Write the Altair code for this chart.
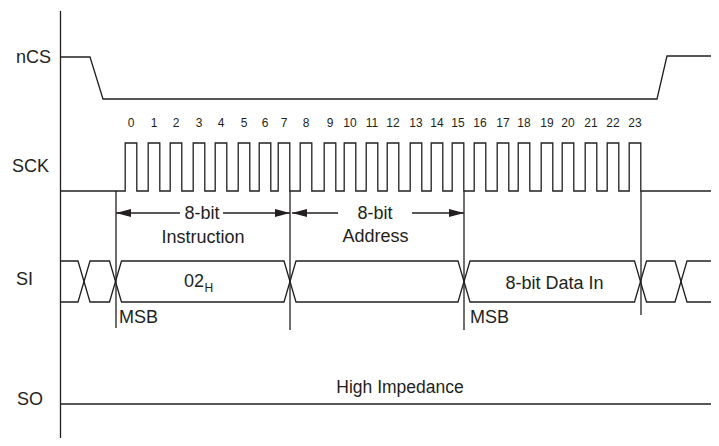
import altair as alt
import pandas as pd

INK = "#231f20"
FONT = "Liberation Sans"
W, H = 703, 430          # plot area; page margin is 8px
X0, Y0 = 8, 8            # page offset of the plot area

# ---------------- values (page pixel units) ----------------
signal_names = ["nCS", "SCK", "SI", "SO"]
signal_name_x = [16, 12, 16, 17]
signal_name_y = [63, 171.5, 285, 405]

axis_x = 60.5
axis_y = [11, 445]

ncs_t = [61, 90, 103, 657, 667, 716]
ncs_level = [57, 57, 99, 99, 56, 56]

sck_high, sck_low = 143, 191
sck_start, sck_end = 61, 716
sck_centres = [131, 154, 176, 199, 221, 244, 265, 284, 306, 330, 350, 372,
               393, 416, 437, 458, 480, 503, 524, 547, 568, 591, 613, 635]
sck_half = 5.8
bit_numbers = [str(i) for i in range(24)]
bit_number_y = 127

si_top, si_bottom = 261, 302
si_start = 61
si_cross = [84, 115.5, 290, 464, 640.5, 681, 720]
si_half = 6

marker_x = [116, 290, 464, 641]
marker_top = 191
marker_bottom = [328, 330, 330, 315]

arrow_y = 213
arrow_seg_from = [116, 223, 292, 412]
arrow_seg_to = [180, 290, 338, 464]
arrow_tip = [116, 290, 292, 464]
arrow_dir = [1, -1, 1, -1]
arrow_len, arrow_half_h = 15, 4

so_y = 404
so_from, so_to = 61, 719

centre_texts = ["8-bit", "Instruction", "8-bit", "Address", "8-bit Data In", "High Impedance"]
centre_x = [202, 203, 375, 375.5, 554.5, 400]
centre_y = [219, 242.5, 219, 242, 289, 393]
centre_size = [18, 18, 18, 18, 18, 17.5]

left_texts = signal_names + ["MSB", "MSB", "02", "H"]
left_x = signal_name_x + [119, 470, 184, 204.5]
left_y = signal_name_y + [323, 323, 287, 292]
left_size = [18, 18, 18, 18, 18, 18, 18, 12]

# ---------------- build tables ----------------
rows = []


def path(pid, xs, ys):
    for i, (x, y) in enumerate(zip(xs, ys)):
        rows.append({"id": pid, "o": i, "x": x, "y": y})


path("axis", [axis_x, axis_x], axis_y)
path("ncs", ncs_t, ncs_level)

sx, sy = [sck_start], [sck_low]
for c in sck_centres:
    sx += [c - sck_half, c - sck_half, c + sck_half, c + sck_half]
    sy += [sck_low, sck_high, sck_high, sck_low]
sx.append(sck_end)
sy.append(sck_low)
path("sck", sx, sy)

for name, lvl, other in (("siA", si_top, si_bottom), ("siB", si_bottom, si_top)):
    xs, ys = [si_start], [lvl]
    cur, nxt = lvl, other
    for c in si_cross:
        xs += [c - si_half, c + si_half]
        ys += [cur, nxt]
        cur, nxt = nxt, cur
    path(name, xs, ys)

for i, (mx, mb) in enumerate(zip(marker_x, marker_bottom)):
    path(f"m{i}", [mx, mx], [marker_top, mb])

for i, (a, b) in enumerate(zip(arrow_seg_from, arrow_seg_to)):
    path(f"a{i}", [a, b], [arrow_y, arrow_y])

path("so", [so_from, so_to], [so_y, so_y])

lines = pd.DataFrame(rows)

heads = []
for i, (t, d) in enumerate(zip(arrow_tip, arrow_dir)):
    heads.append({"id": i, "x": t, "y": arrow_y, "y2": arrow_y})
    heads.append({"id": i, "x": t + d * arrow_len, "y": arrow_y - arrow_half_h, "y2": arrow_y + arrow_half_h})
heads = pd.DataFrame(heads)

nums = pd.DataFrame({"x": sck_centres, "y": [bit_number_y] * 24, "t": bit_numbers})
ctext = pd.DataFrame({"x": centre_x, "y": centre_y, "t": centre_texts, "s": centre_size})
ltext = pd.DataFrame({"x": left_x, "y": left_y, "t": left_texts, "s": left_size})

xs = alt.Scale(domain=[X0, X0 + W], nice=False, zero=False)
ys = alt.Scale(domain=[Y0 + H, Y0], nice=False, zero=False)
X = lambda f="x": alt.X(f"{f}:Q", scale=xs, axis=None)
Y = lambda f="y": alt.Y(f"{f}:Q", scale=ys, axis=None)

line_layer = alt.Chart(lines).mark_line(color=INK, strokeWidth=1.3).encode(
    x=X(), y=Y(), detail="id:N", order="o:Q")

head_layer = alt.Chart(heads).mark_area(color=INK, opacity=1, interpolate="linear").encode(
    x=X(), y=Y(), y2="y2:Q", detail="id:N")

num_layer = alt.Chart(nums).mark_text(font=FONT, fontSize=12, color=INK, align="center",
                                      baseline="alphabetic").encode(x=X(), y=Y(), text="t:N")

ctext_layer = alt.Chart(ctext).mark_text(font=FONT, color=INK, align="center",
                                         baseline="alphabetic").encode(
    x=X(), y=Y(), text="t:N", size=alt.Size("s:Q", scale=None, legend=None))

ltext_layer = alt.Chart(ltext).mark_text(font=FONT, color=INK, align="left",
                                         baseline="alphabetic").encode(
    x=X(), y=Y(), text="t:N", size=alt.Size("s:Q", scale=None, legend=None))

chart = alt.layer(line_layer, head_layer, num_layer, ctext_layer, ltext_layer).properties(
    width=W, height=H, padding=0, autosize=alt.AutoSizeParams(type="none"),
    background="white",
).configure_view(stroke=None)

chart.save("out.html", embed_options={"renderer": "svg", "actions": False})
